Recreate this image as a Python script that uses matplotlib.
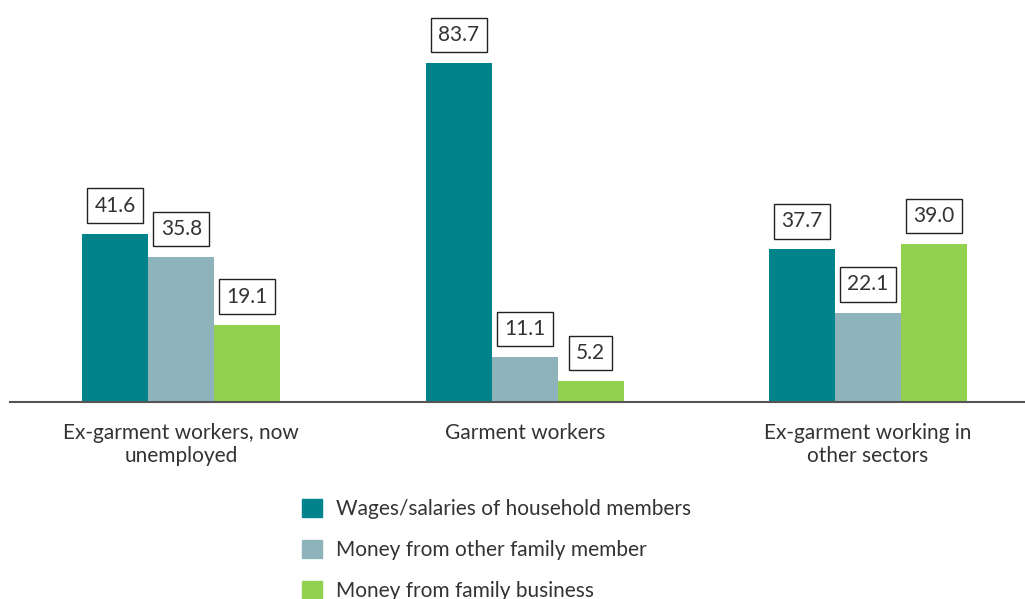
import matplotlib.pyplot as plt
import matplotlib.patches as mpatches
import numpy as np

# data
groups = ['Ex-garment workers, now\nunemployed', 'Garment workers',
          'Ex-garment working in\nother sectors']
series = ['Wages/salaries of household members',
          'Money from other family member',
          'Money from family business']
wages = [41.6, 83.7, 37.7]
other_family = [35.8, 11.1, 22.1]
family_business = [19.1, 5.2, 39.0]
colors = ['#00838a', '#8fb3bb', '#92d050']

plt.rcParams['font.family'] = ['Lato', 'DejaVu Sans']

fig = plt.figure(figsize=(10.25, 5.99), dpi=100)
ax = fig.add_axes([10/1025, 197/599, 1015/1025, 402/599])

x = np.arange(len(groups))
w = 0.192
for i, vals in enumerate([wages, other_family, family_business]):
    pos = x + (i - 1) * w
    ax.bar(pos, vals, width=w, color=colors[i], label=series[i])
    for px, v in zip(pos, vals):
        ax.annotate('%.1f' % v, (px, v), xytext=(0, 13), textcoords='offset points',
                    ha='center', va='bottom', fontsize=15, color='#333333',
                    bbox=dict(boxstyle='square,pad=0.35', fc='white', ec='#222222', lw=1))

ax.set_xlim(-0.499, 2.457)
ax.set_ylim(0, 99.3)
for s in ['top', 'right', 'left']:
    ax.spines[s].set_visible(False)
ax.spines['bottom'].set_color('#555555')
ax.spines['bottom'].set_linewidth(1.5)
ax.set_yticks([])
ax.set_xticks(x)
ax.set_xticklabels(groups, fontsize=15, color='#333333', linespacing=1.2)
ax.tick_params(axis='x', length=0, pad=15)

handles = [mpatches.Patch(color=c) for c in colors]
fig.legend(handles, series, loc='upper left', bbox_to_anchor=(283/1025, 1 - 480/599),
           frameon=False, fontsize=15, labelcolor='#333333',
           handlelength=0.96, handleheight=0.96, labelspacing=1.0, handletextpad=0.7)

fig.savefig('out.png', dpi=100)
